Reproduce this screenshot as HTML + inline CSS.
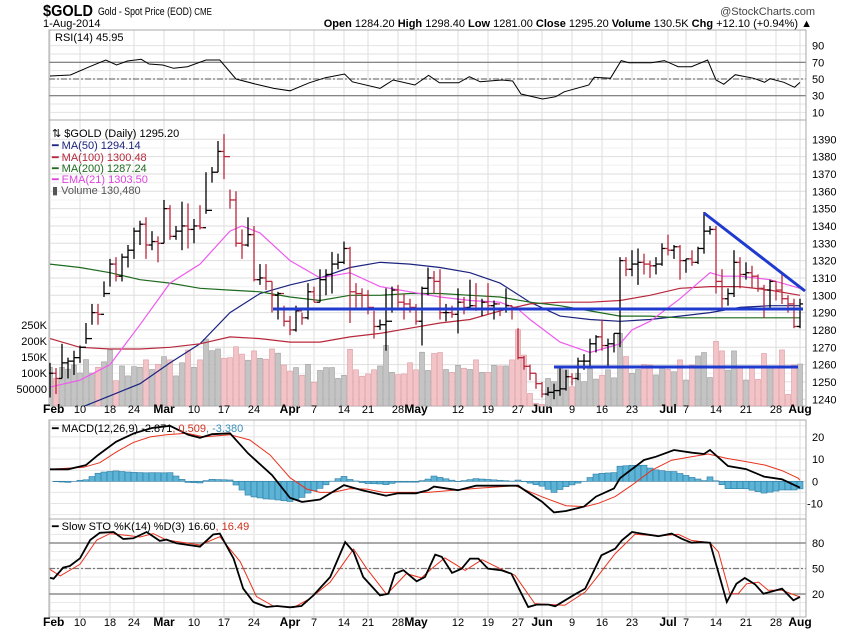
<!DOCTYPE html>
<html><head><meta charset="utf-8"><style>
body{margin:0;background:#fff;}
svg{display:block;font-family:"Liberation Sans",sans-serif;}
</style></head><body>
<svg id="c" width="850" height="633" viewBox="0 0 850 633" xmlns="http://www.w3.org/2000/svg">
<defs>
<clipPath id="cR"><rect x="49" y="30" width="757" height="90"/></clipPath>
<clipPath id="cP"><rect x="49" y="120" width="757" height="286"/></clipPath>
<clipPath id="cM"><rect x="49" y="420" width="757" height="99"/></clipPath>
<clipPath id="cS"><rect x="49" y="519" width="757" height="98"/></clipPath>
</defs>
<text x="43" y="16" font-size="16" font-weight="bold" textLength="50" lengthAdjust="spacingAndGlyphs">$GOLD</text>
<text x="98" y="15" font-size="11" textLength="114" lengthAdjust="spacingAndGlyphs">Gold - Spot Price (EOD) <tspan font-size="10">CME</tspan></text>
<text x="815" y="15" font-size="11" text-anchor="end" fill="#444">@StockCharts.com</text>
<text x="43" y="27" font-size="11">1-Aug-2014</text>
<text x="812" y="27" font-size="11" text-anchor="end"><tspan font-weight="bold">Open</tspan> 1284.20 <tspan font-weight="bold">High</tspan> 1298.40 <tspan font-weight="bold">Low</tspan> 1281.00 <tspan font-weight="bold">Close</tspan> 1295.20 <tspan font-weight="bold">Volume</tspan> 130.5K <tspan font-weight="bold">Chg</tspan> +12.10 (+0.94%) ▲</text>
<g id="grid"></g>
<g id="marks"></g>
<g id="labels"></g>
</svg>
<script>
const closes=[1255,1252,1261,1262,1264,1270,1275,1290,1289,1301,
1318,1311,1322,1326,1337,1341,1329,1331,1330,1350,
1334,1337,1340,1338,1340,1339,1349,1371,1383,1380,
1355,1330,1329,1335,1309,1310,1308,1300,1301,1285,
1280,1291,1287,1302,1296,1309,1312,1318,1319,1327,
1302,1301,1300,1293,1282,1283,1285,1303,1296,1295,
1293,1285,1304,1310,1308,1290,1290,1289,1296,1293,
1294,1292,1296,1294,1295,1292,1294,1293,1264,1259,
1255,1249,1243,1244,1245,1246,1253,1252,1262,1262,
1272,1276,1271,1272,1278,1320,1315,1318,1319,1318,
1317,1318,1327,1326,1328,1320,1321,1319,1327,1337,
1338,1308,1298,1301,1319,1312,1313,1311,1304,1303,
1308,1303,1298,1295,1282,1295];
const highs=[1261,1258,1272,1264,1268,1271,1284,1295,1295,1308,
1321,1322,1324,1329,1339,1343,1345,1337,1334,1355,
1352,1340,1354,1353,1344,1352,1371,1374,1389,1393,
1361,1360,1338,1345,1340,1318,1318,1308,1302,1294,
1288,1294,1290,1307,1305,1315,1315,1325,1324,1331,
1328,1307,1304,1303,1291,1286,1304,1305,1306,1301,
1298,1295,1305,1316,1314,1315,1295,1294,1304,1299,
1309,1307,1298,1307,1297,1293,1304,1294,1281,1265,
1260,1255,1250,1247,1249,1258,1257,1255,1264,1266,
1275,1277,1286,1275,1278,1322,1322,1326,1327,1324,
1320,1322,1330,1335,1329,1329,1321,1326,1328,1348,
1340,1340,1315,1304,1326,1322,1319,1317,1312,1306,
1309,1308,1312,1300,1298,1298];
const lows=[1241,1243,1252,1252,1254,1261,1272,1283,1283,1299,
1305,1308,1308,1316,1321,1329,1321,1326,1319,1330,
1332,1332,1326,1327,1330,1338,1347,1365,1371,1367,
1350,1328,1321,1328,1308,1306,1303,1290,1286,1282,
1277,1279,1283,1286,1296,1296,1300,1301,1315,1318,
1284,1293,1293,1289,1275,1280,1268,1290,1293,1286,
1290,1283,1271,1300,1301,1286,1285,1287,1278,1289,
1292,1291,1288,1289,1286,1288,1290,1286,1263,1257,
1251,1246,1241,1242,1240,1242,1245,1248,1251,1257,
1258,1267,1268,1258,1267,1270,1311,1311,1306,1312,
1310,1312,1317,1323,1321,1309,1313,1317,1318,1324,
1335,1301,1293,1294,1299,1304,1309,1304,1302,1287,
1292,1297,1295,1290,1281,1281];
const volumes=[118,83,118,112,125,100,142,100,118,135,
172,76,122,91,120,118,141,111,127,151,
141,91,132,172,118,141,206,170,175,146,
148,182,159,140,169,146,143,175,162,125,
106,117,93,127,71,108,117,117,83,93,
174,110,90,97,110,122,186,102,95,97,
132,110,165,108,161,164,111,102,124,115,
111,141,102,102,124,122,122,141,236,156,
36,5,2,83,73,115,110,57,99,73,
113,81,93,110,85,224,151,99,111,127,
125,94,115,111,104,141,78,125,153,164,
86,199,169,109,169,115,78,116,80,161,
120,120,172,33,125,128];
const ma50Idx=[4,5,10,15,20,25,30,35,40,45,50,55,60,65,70,75,80,85,90,95,100,105,110,115,120,125];
const ma50Val=[1233,1235,1242,1249,1261,1272,1290,1301,1306,1310,1316,1319,1318,1316,1313,1307,1296,1288,1286,1285,1286,1288,1290,1293,1294,1294];
const maIdx=[0,5,10,15,20,25,30,35,40,45,50,55,60,65,70,75,80,85,90,95,100,105,110,115,120,125];
const ma100Val=[1275,1270,1269,1269,1270,1272,1276,1275,1273,1273,1276,1278,1281,1284,1286,1291,1295,1296,1296,1297,1300,1304,1305,1305,1303,1300];
const ma200Val=[1318,1316,1313,1309,1307,1304,1303,1302,1299,1297,1300,1300,1301,1301,1300,1299,1296,1294,1291,1288,1288,1287,1287,1287,1287,1287];
const emaIdx=[0,5,10,15,20,25,30,32,35,40,45,50,55,60,65,70,75,78,80,85,90,95,97,100,105,110,112,115,120,125];
const emaVal=[1247,1251,1260,1283,1307,1318,1337,1340,1336,1320,1310,1313,1305,1302,1299,1297,1296,1292,1286,1273,1267,1272,1280,1285,1298,1313,1311,1311,1309,1304];
const rsiIdx=[0,3.4,6.6,9.3,11.1,12.9,15.2,16.5,18.8,20.6,22.9,26,28.3,31,34.2,37.3,40,43.2,45.9,49.1,50.4,55,57.2,60.8,63.1,64.9,68.1,69.9,71.7,75.3,77.1,78.5,82.1,84.3,85.7,89.8,90.7,93.4,95.2,96.5,100.2,102.4,104.7,106.9,109.6,111,112.3,114.2,117.3,119.1,120,122.3,124.1,125];
const rsiVal=[53.6,54.8,64.7,72.8,66.8,71.6,73.6,68,66.8,62.8,64.7,72.8,72.8,50,44,38.8,35.9,45.5,51.5,56,46.7,38.8,48.8,42.8,54.4,45.5,45.5,52.7,46.7,48.8,47.6,32,26,28.8,34.7,42.8,52,50.8,72,69.5,69.5,72,64.7,64.7,72.8,48.8,43.6,55.1,50.8,46,50.3,46,40,45.95];
const macdIdx=[0,3,6,8,11,14,17,20,23,25,27,30,33,37,40,42,45,49,52,56,58,61,63,64,68,71,78,82,84,86,89,91,94,95,99,101,104,107,109,110,113,116,119,122,125];
const macdVal=[5.4,5.4,7.3,11.8,17.8,21.6,24,25,21,19.6,21.2,21.6,12.6,2.8,-7.5,-9.3,-8.2,-1.7,-4,-6.5,-5.4,-5.4,-4,-2.4,-4,-2,-2,-9.2,-14,-13.4,-11.4,-6.9,-3.2,1.4,9.6,11.1,14.1,12.9,12.3,14.1,6.9,5.5,2.1,0.9,-2.9];
const sigIdx=[0,5.6,8.3,11.1,13.9,16.7,19.4,22.8,25.6,30,33.3,36.7,40,42.8,45,47.2,50,52.8,55.6,61,63,71,77.5,82,86,89.2,91.4,94.2,97,100.3,103.6,106.9,109.7,112.8,115.9,119.2,122,124.7,125];
const sigVal=[5.4,6.3,8.4,13.3,17.5,20,21,21.6,20,21,18.6,11.8,1.6,-3.5,-5,-5,-3.3,-3.5,-5,-5,-5,-3.2,-2,-7,-11,-11.4,-9.9,-6.9,-1.7,5,9.5,11.1,12.3,10.3,8.9,7.3,4.8,1.4,0.5];
const kIdx=[0,0.6,2.2,3.3,5,6.7,8.3,10.6,12.2,13.9,16.1,18.3,19.4,21.1,25,27.2,28.3,30.6,32.2,33.9,36.1,37.8,40,41.9,43.9,46.7,49.2,50.6,52.2,55,56.4,57.5,58.9,61.1,62.5,64.2,65.3,67,68.6,70,71.4,73,75.3,76.9,79.7,81.1,83.1,84.2,87.5,89.2,91.9,94.2,95.3,97,98.6,101.4,103.6,105.3,106.9,108.6,110,112.8,114.4,115.8,117.5,118.9,120.3,122,123.9,125];
const kVal=[39.2,38,51,53,62,83.5,92,93,84.7,85.5,93,82.5,84,79.6,75.7,90,91,61.6,26.3,10.6,4.7,5.9,4.3,5.9,18.4,40,81,69.5,40,18.4,20.4,44,48,35,40,66.3,63.6,44.8,49.8,61.6,61.6,49.8,47.8,43.9,4.7,7.5,7.5,5.5,19.6,26.3,65.5,73.3,83.1,93,91,88,91,85,80.4,81,80.4,10.6,32,38.8,31.4,20.4,23,26.3,12.6,16.6];
const dIdx=[0,1.7,5,7.8,10,12.8,15,17.2,19.4,25,28.3,31.7,34.4,37.2,40.6,43.3,46.7,50.6,52.8,56.1,59.4,61.9,63.6,65.8,69.2,72,75.3,77.5,80.8,83.6,85.8,89.2,91.4,94.2,97.5,101.4,104.7,106.9,110,111.4,113.3,114.7,116.1,118.1,119.7,122,125];
const dVal=[49,41.3,55,83.5,91,89,87,91,83.5,77.6,87.4,58,17,5.9,4,14.5,34,73,49.8,19.6,44,39,49.8,62.5,47.8,60.4,49,42,8.7,7.5,6.7,22.4,42,67.5,90.2,88.2,90.2,83.1,80.4,69.5,20.4,20.4,32,34,24.3,24.3,16.49];
const tickIdx=[0,5,10,14,19,24,29,34,40,44,49,53,58,61,68,73,78,82,87,92,97,103,106,111,116,121,125];
const tickLbl=["Feb","10","18","24","Mar","10","17","24","Apr","7","14","21","28","May","12","19","27","Jun","9","16","23","Jul","7","14","21","28","Aug"];
const priceTicks=[1240,1250,1260,1270,1280,1290,1300,1310,1320,1330,1340,1350,1360,1370,1380,1390];
const volTicks=[50,100,150,200,250];
const volLbl=["50000","100K","150K","200K","250K"];
const rsiTicks=[10,30,50,70,90];
const macdTicks=[-10,0,10,20];
const stoTicks=[20,50,80];

const NS="http://www.w3.org/2000/svg";
const X=i=>50+6*i;
const yP=p=>139.3+(1390-p)*1.733;
const yV=v=>405-0.32*v;
const yR=v=>62.3+(70-v)*0.835;
const yM=v=>481.3-2.22*v;
const yS=v=>543+(80-v)*0.85;
const G=document.getElementById('grid'),M=document.getElementById('marks'),L=document.getElementById('labels');
function el(tag,attrs,parent){const e=document.createElementNS(NS,tag);for(const k in attrs)e.setAttribute(k,attrs[k]);parent.appendChild(e);return e;}
function txt(s,x,y,attrs,parent){const t=el('text',Object.assign({x:x,y:y,'font-size':11},attrs),parent);t.textContent=s;return t;}
function interp(ix,vs,i){if(i<=ix[0])return vs[0];for(let k=1;k<ix.length;k++){if(i<=ix[k]){const f=(i-ix[k-1])/(ix[k]-ix[k-1]);return vs[k-1]+f*(vs[k]-vs[k-1]);}}return vs[vs.length-1];}
function pts(ix,vs,fy){return ix.map((i,k)=>X(i).toFixed(1)+','+fy(vs[k]).toFixed(1)).join(' ');}

const panels=[[30,120],[120,406],[420,519],[519,617]];
panels.forEach(([a,b])=>{
  for(let k=0;k<tickIdx.length;k++){const l=el('line',{x1:X(tickIdx[k]),x2:X(tickIdx[k]),y1:a,y2:b,stroke:'#dcdcdc','stroke-width':1},G);
  
  }
});
for(let v=10;v<=90;v+=10){const l=el('line',{x1:49,x2:806,y1:yR(v),y2:yR(v),stroke:'#e2e2e2'},G);

}
for(let v=1240;v<=1390;v+=5){const l=el('line',{x1:49,x2:806,y1:yP(v),y2:yP(v),stroke:v%10?'#f0f0f0':'#dedede'},G);

}
for(let v=-15;v<=25;v+=5){const l=el('line',{x1:49,x2:806,y1:yM(v),y2:yM(v),stroke:'#e4e4e4'},G);

}
for(let v=0;v<=100;v+=10){const l=el('line',{x1:49,x2:806,y1:yS(v),y2:yS(v),stroke:'#e8e8e8'},G);

}
[[yR(70),'none'],[yR(30),'none'],[yR(50),'6,2,2,2'],[yS(80),'none'],[yS(20),'none'],[yS(50),'6,2,2,2']].forEach(([y,d])=>{
  const l=el('line',{x1:49,x2:806,y1:y,y2:y,stroke:'#777','stroke-width':1.2,'stroke-dasharray':d},G);
  
  
});
panels.forEach(([a,b])=>{const r=el('rect',{x:49,y:a,width:757,height:b-a,fill:'none',stroke:'#aaa'},G);

});

const rsi=el('polyline',{points:pts(rsiIdx,rsiVal,yR),fill:'none',stroke:'#000','stroke-width':1,'clip-path':'url(#cR)'},M);



const gP=el('g',{'clip-path':'url(#cP)'},M);
volumes.forEach((v,i)=>{const up=i===0||closes[i]>=closes[i-1];
  const r=el('rect',{x:X(i)-2.5,y:yV(v),width:5,height:Math.max(0,406-yV(v)),fill:up?'#c4c4c4':'#f2c4c8',stroke:up?'#a0a0a0':'#dc9aa0','stroke-width':0.6},gP);
  
  });
[[ma50Idx,ma50Val,'#1b237e','ma50-line'],[maIdx,ma100Val,'#b8283c','ma100-line'],[maIdx,ma200Val,'#1e6b1e','ma200-line'],[emaIdx,emaVal,'#ee5aee','ema21-line']].forEach(([ix,vs,c,n])=>{
  const p=el('polyline',{points:pts(ix,vs,yP),fill:'none',stroke:c,'stroke-width':1.2},gP);
  
  });
closes.forEach((c,i)=>{const up=i===0||c>=closes[i-1];const col=up?'#000':'#b8283c';const x=X(i);
  const g=el('g',{stroke:col,'stroke-width':1.3},gP);
  
  
  el('line',{x1:x,x2:x,y1:yP(highs[i]),y2:yP(lows[i])},g);
  const o=i===0?c:closes[i-1];
  el('line',{x1:x-3,x2:x,y1:yP(o),y2:yP(o)},g);
  el('line',{x1:x,x2:x+3,y1:yP(c),y2:yP(c)},g);});
[[273,309,803,309],[554,367,798,367],[704,213,805,291]].forEach(a=>{
  const l=el('line',{x1:a[0],y1:a[1],x2:a[2],y2:a[3],stroke:'#1f3bcf','stroke-width':3},gP);
  
  });

const gM=el('g',{'clip-path':'url(#cM)'},M);
for(let i=0;i<closes.length;i++){const h=interp(macdIdx,macdVal,i)-interp(sigIdx,sigVal,i);
  const y0=yM(0),y1=yM(h);
  const r=el('rect',{x:X(i)-3,y:Math.min(y0,y1),width:6,height:Math.abs(y1-y0),fill:'#5cb3d6',stroke:'#2c7ca3','stroke-width':0.6},gM);
  
  }
const sg=el('polyline',{points:pts(sigIdx,sigVal,yM),fill:'none',stroke:'#e8321e','stroke-width':1},gM);


const md=el('polyline',{points:pts(macdIdx,macdVal,yM),fill:'none',stroke:'#000','stroke-width':1.8},gM);


const gS=el('g',{'clip-path':'url(#cS)'},M);
const dl=el('polyline',{points:pts(dIdx,dVal,yS),fill:'none',stroke:'#e8321e','stroke-width':1},gS);


const kl=el('polyline',{points:pts(kIdx,kVal,yS),fill:'none',stroke:'#000','stroke-width':1.8},gS);



[[413],[626]].forEach(([y])=>{tickIdx.forEach((i,k)=>{const isM=isNaN(+tickLbl[k]);
  const t=txt(tickLbl[k],X(i)+(k===0?-7:0),y,{'text-anchor':k===0?'start':'middle','font-weight':isM?'bold':'normal','font-size':isM?12:11},L);
  
  });});
priceTicks.forEach(p=>{const t=txt(String(p),812,yP(p)+4,{},L);

});
volTicks.forEach((v,k)=>{const t=txt(volLbl[k],47,yV(v)+4,{'text-anchor':'end'},L);

});
rsiTicks.forEach(v=>{const t=txt(String(v),812,yR(v)+4,{},L);

});
macdTicks.forEach(v=>{const t=txt(String(v),v<0?807:812,yM(v)+4,{},L);

});
stoTicks.forEach(v=>{const t=txt(String(v),812,yS(v)+4,{},L);

});

const lg=[[55,41,'RSI(14) 45.95','#000'],[52,137,'⇅ $GOLD (Daily) 1295.20','#000'],[52,149,'━ MA(50) 1294.14','#1b237e'],[52,161,'━ MA(100) 1300.48','#b8283c'],[52,172,'━ MA(200) 1287.24','#1e6b1e'],[52,183,'━ EMA(21) 1303.50','#dd44dd'],[52,194,'▮ Volume 130,480','#555']];
lg.forEach(a=>{const t=txt(a[2],a[0],a[1],{fill:a[3]},L);

});
const ml=el('text',{x:52,y:432,'font-size':11},L);


ml.innerHTML='━ MACD(12,26,9) -2.871<tspan fill="#d0321e">, 0.509</tspan><tspan fill="#3a8fb8">, -3.380</tspan>';
const sl=el('text',{x:52,y:530,'font-size':11},L);


sl.innerHTML='━ Slow STO %K(14) %D(3) 16.60<tspan fill="#d0321e">, 16.49</tspan>';
</script>
</body></html>
